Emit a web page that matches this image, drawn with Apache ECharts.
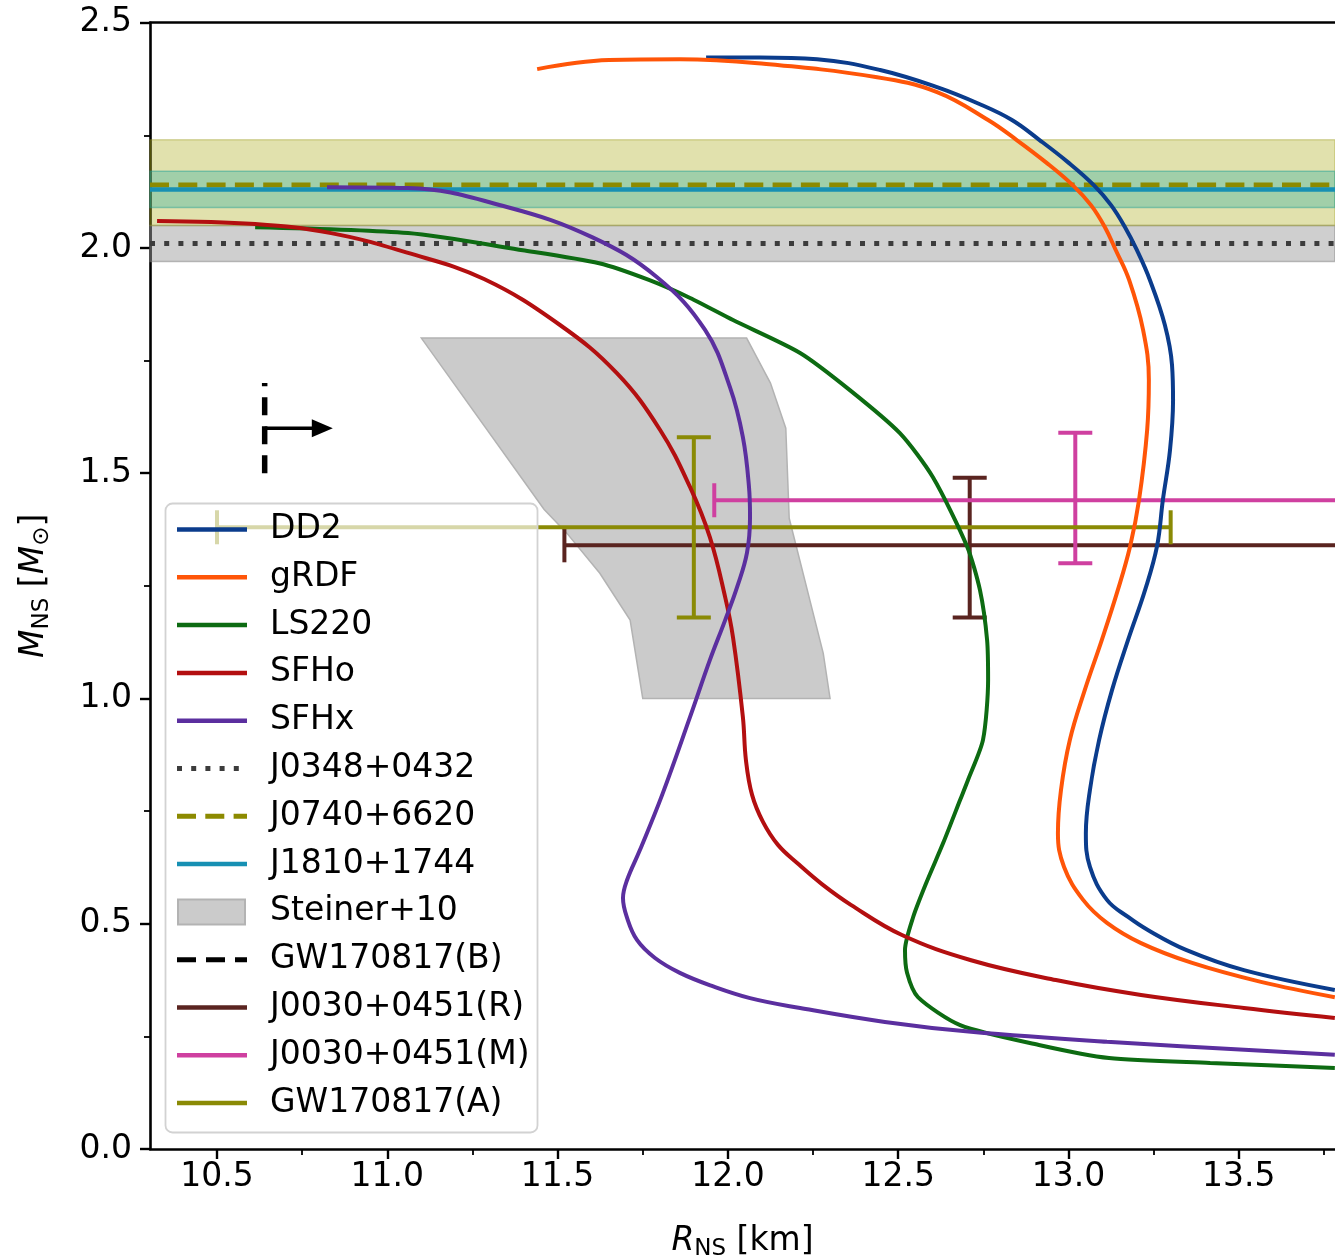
<!DOCTYPE html>
<html><head><meta charset="utf-8">
<script src="https://cdn.jsdelivr.net/npm/echarts@6/dist/echarts.min.js"></script>
<style>html,body{margin:0;padding:0;background:#fff}#c{width:1335px;height:1260px}</style>
</head><body><div id="c"></div>
<script>
// ---------------- data ----------------
const xMin = 10.3033, xMax = 13.7825;
const xTicks = [10.5, 11.0, 11.5, 12.0, 12.5, 13.0, 13.5];
const xMinorTicks = [10.75, 11.25, 11.75, 12.25, 12.75, 13.25, 13.75];

// EOS mass-radius curves (R [km], M [Msun])
const R_DD2 = [11.936, 12.094, 12.262, 12.447, 12.614, 12.740, 12.834, 12.916, 12.999, 13.075, 13.125, 13.166, 13.201, 13.239, 13.283, 13.304, 13.307, 13.298, 13.277, 13.260, 13.225, 13.175, 13.128, 13.090, 13.063, 13.051, 13.063, 13.113, 13.175, 13.233, 13.345, 13.515, 13.782];
const M_DD2 = [2.423, 2.423, 2.419, 2.395, 2.357, 2.319, 2.284, 2.239, 2.190, 2.139, 2.095, 2.046, 1.995, 1.929, 1.829, 1.740, 1.662, 1.551, 1.440, 1.338, 1.241, 1.130, 1.019, 0.908, 0.797, 0.701, 0.626, 0.553, 0.515, 0.486, 0.442, 0.397, 0.353];

const R_gRDF = [11.440, 11.651, 11.859, 12.088, 12.438, 12.614, 12.764, 12.849, 12.934, 13.013, 13.066, 13.107, 13.139, 13.178, 13.219, 13.236, 13.231, 13.207, 13.181, 13.145, 13.098, 13.048, 13.004, 12.978, 12.969, 12.987, 13.043, 13.113, 13.213, 13.363, 13.565, 13.782];
const M_gRDF = [2.397, 2.417, 2.419, 2.410, 2.379, 2.346, 2.284, 2.239, 2.190, 2.139, 2.095, 2.046, 1.995, 1.929, 1.818, 1.707, 1.596, 1.440, 1.338, 1.241, 1.130, 1.019, 0.908, 0.797, 0.701, 0.626, 0.553, 0.502, 0.457, 0.413, 0.371, 0.337];

const R_LS220 = [10.612, 11.061, 11.398, 11.622, 11.768, 11.889, 12.015, 12.212, 12.359, 12.505, 12.602, 12.702, 12.740, 12.761, 12.764, 12.749, 12.705, 12.682, 12.632, 12.582, 12.544, 12.520, 12.526, 12.558, 12.682, 12.913, 13.119, 13.416, 13.782];
const M_LS220 = [2.046, 2.033, 1.995, 1.966, 1.929, 1.889, 1.840, 1.767, 1.684, 1.589, 1.491, 1.338, 1.241, 1.130, 1.041, 0.908, 0.819, 0.775, 0.679, 0.590, 0.515, 0.442, 0.391, 0.337, 0.275, 0.231, 0.202, 0.191, 0.180];

const R_SFHo = [10.324, 10.612, 10.835, 11.061, 11.284, 11.507, 11.674, 11.801, 11.889, 11.947, 11.992, 12.015, 12.044, 12.053, 12.071, 12.103, 12.147, 12.206, 12.276, 12.361, 12.511, 12.714, 12.963, 13.213, 13.515, 13.782];
const M_SFHo = [2.060, 2.053, 2.033, 1.989, 1.931, 1.829, 1.722, 1.596, 1.469, 1.358, 1.225, 1.136, 0.959, 0.863, 0.786, 0.726, 0.675, 0.633, 0.588, 0.542, 0.475, 0.419, 0.375, 0.342, 0.313, 0.291];

const R_SFHx = [10.823, 11.061, 11.351, 11.601, 11.792, 11.933, 12.006, 12.044, 12.062, 12.065, 12.056, 12.027, 11.992, 11.947, 11.889, 11.807, 11.742, 11.704, 11.692, 11.704, 11.733, 11.786, 11.859, 11.953, 12.065, 12.212, 12.461, 12.714, 13.113, 13.782];
const M_SFHx = [2.135, 2.133, 2.091, 2.024, 1.935, 1.818, 1.691, 1.580, 1.469, 1.403, 1.323, 1.247, 1.174, 1.085, 0.959, 0.786, 0.664, 0.597, 0.557, 0.513, 0.464, 0.424, 0.391, 0.362, 0.335, 0.313, 0.282, 0.260, 0.238, 0.209];

// pulsar mass measurements (horizontal bands)
const psrNames = ['J0348+0432', 'J0740+6620', 'J1810+1744'];
const psrM = [2.01, 2.14, 2.13];
const psrLo = [1.97, 2.05, 2.09];
const psrHi = [2.05, 2.24, 2.17];

// Steiner+10 region
const steinerR = [11.10, 12.055, 12.125, 12.17, 12.18, 12.28, 12.30, 11.75, 11.713, 11.624, 11.527, 11.46];
const steinerM = [1.80, 1.80, 1.70, 1.60, 1.40, 1.10, 1.00, 1.00, 1.174, 1.278, 1.367, 1.42];

// GW170817(B) lower bound
const gwbR = [10.64];
const gwbMlo = [1.5];
const gwbMhi = [1.7];
const gwbMarrow = [1.6];
const gwbRarrow = [10.84];

// error bars
const ebNames = ['J0030+0451(R)', 'J0030+0451(M)', 'GW170817(A)'];
const ebR = [12.71, 13.02, 11.9];
const ebRlo = [11.52, 11.96, 10.5];
const ebRhi = [13.85, 14.26, 13.3];
const ebM = [1.34, 1.44, 1.38];
const ebMlo = [1.18, 1.30, 1.18];
const ebMhi = [1.49, 1.59, 1.58];

// ---------------- styles ----------------
const FONT = 'DejaVu Sans';
const curveNames = ['DD2', 'gRDF', 'LS220', 'SFHo', 'SFHx'];
const curveR = [R_DD2, R_gRDF, R_LS220, R_SFHo, R_SFHx];
const curveM = [M_DD2, M_gRDF, M_LS220, M_SFHo, M_SFHx];
const curveColors = ['#0b3c8c', '#ff5508', '#0d6b12', '#b30f10', '#5b2f9f'];
const curveSmooth = [0.4, 0.4, 0.25, 0.4, 0.4];
const psrBandFill = ['rgba(128,128,128,0.38)', 'rgba(170,168,20,0.35)', 'rgba(30,170,160,0.33)'];
const psrBandEdge = ['rgba(128,128,128,0.5)', 'rgba(150,148,20,0.35)', 'rgba(30,160,150,0.45)'];
const psrLineColor = ['#3c3c3c', '#8c8a00', '#1790b3'];
const psrLineDash = [[5, 9.2], [19, 9.3], null];
const psrLineWidth = [5, 5, 4.5];
const ebColors = ['#5a2420', '#cf40a0', '#8a8a05'];

const chart = echarts.init(document.getElementById('c'), null, {renderer: 'canvas'});

const series = [];

// bands
series.push({
  type: 'custom', name: 'bands', z: 1, silent: true,
  data: psrM.map((m, i) => [psrLo[i], psrHi[i], m]),
  encode: {y: [0, 1]},
  renderItem: (params, api) => {
    const cs = params.coordSys;
    const i = params.dataIndex;
    const yHi = api.coord([xMin, api.value(1)])[1];
    const yLo = api.coord([xMin, api.value(0)])[1];
    return {type: 'rect', shape: {x: cs.x, y: yHi, width: cs.width, height: yLo - yHi},
      style: {fill: psrBandFill[i], stroke: psrBandEdge[i], lineWidth: 1.5}};
  }
});
// band center lines
series.push({
  type: 'custom', name: 'psrlines', z: 2, silent: true,
  data: psrM.map((m) => [m]),
  encode: {y: 0},
  renderItem: (params, api) => {
    const cs = params.coordSys;
    const i = params.dataIndex;
    const y = api.coord([xMin, api.value(0)])[1];
    return {type: 'line', shape: {x1: cs.x, y1: y, x2: cs.x + cs.width, y2: y},
      style: {stroke: psrLineColor[i], lineWidth: psrLineWidth[i], lineDash: psrLineDash[i], lineCap: 'butt'}};
  }
});
// Steiner polygon
series.push({
  type: 'custom', name: 'Steiner+10', z: 2, silent: true,
  data: steinerR.map((r, i) => [r, steinerM[i]]),
  encode: {x: 0, y: 1},
  renderItem: (params, api) => {
    if (params.dataIndex !== 0) return null;
    const pts = steinerR.map((r, i) => api.coord([r, steinerM[i]]));
    return {type: 'polygon', shape: {points: pts},
      style: {fill: '#cbcbcb', stroke: '#b3b3b3', lineWidth: 1.5}};
  }
});
// GW170817(B)
series.push({
  type: 'custom', name: 'GW170817(B)', z: 3, silent: true,
  data: gwbR.map((r, i) => [r, gwbMlo[i], gwbMhi[i], gwbMarrow[i], gwbRarrow[i]]),
  encode: {x: 0, y: [1, 2]},
  renderItem: (params, api) => {
    const r = api.value(0);
    const pLo = api.coord([r, api.value(1)]);
    const pHi = api.coord([r, api.value(2)]);
    const pA = api.coord([r, api.value(3)]);
    const pE = api.coord([api.value(4), api.value(3)]);
    const head = 21, hw = 9;
    return {type: 'group', children: [
      {type: 'line', shape: {x1: pLo[0], y1: pLo[1], x2: pHi[0], y2: pHi[1]},
        style: {stroke: '#000', lineWidth: 5.5, lineDash: [18, 11], lineCap: 'butt'}},
      {type: 'line', shape: {x1: pA[0], y1: pA[1], x2: pE[0] - head + 2, y2: pE[1]},
        style: {stroke: '#000', lineWidth: 3.5}},
      {type: 'polygon', shape: {points: [[pE[0], pE[1]], [pE[0] - head, pE[1] - hw], [pE[0] - head, pE[1] + hw]]},
        style: {fill: '#000'}}
    ]};
  }
});
// error bars
series.push({
  type: 'custom', name: 'errorbars', z: 4, silent: true,
  data: ebR.map((r, i) => [r, ebM[i], ebRlo[i], ebRhi[i], ebMlo[i], ebMhi[i]]),
  encode: {x: [0, 2, 3], y: [1, 4, 5]},
  renderItem: (params, api) => {
    const i = params.dataIndex;
    const r = api.value(0), m = api.value(1);
    const pl = api.coord([api.value(2), m]);
    const ph = api.coord([api.value(3), m]);
    const vl = api.coord([r, api.value(4)]);
    const vh = api.coord([r, api.value(5)]);
    const cap = 17;
    const st = {stroke: ebColors[i], lineWidth: 4};
    const L = (x1, y1, x2, y2) => ({type: 'line', shape: {x1, y1, x2, y2}, style: st});
    return {type: 'group', children: [
      L(pl[0], pl[1], ph[0], ph[1]),
      L(vl[0], vl[1], vh[0], vh[1]),
      L(pl[0], pl[1] - cap, pl[0], pl[1] + cap),
      L(ph[0], ph[1] - cap, ph[0], ph[1] + cap),
      L(vl[0] - cap, vl[1], vl[0] + cap, vl[1]),
      L(vh[0] - cap, vh[1], vh[0] + cap, vh[1])
    ]};
  }
});
// EOS curves
curveNames.forEach((n, k) => {
  series.push({
    type: 'line', name: n, z: 5,
    data: curveR[k].map((r, i) => [r, curveM[k][i]]),
    showSymbol: false, symbol: 'none', smooth: curveSmooth[k], smoothConstraint: false, clip: true,
    lineStyle: {color: curveColors[k], width: 4},
    animation: false
  });
});

// ---------------- legend (drawn) ----------------
const legendNames = ['DD2', 'gRDF', 'LS220', 'SFHo', 'SFHx', 'J0348+0432', 'J0740+6620', 'J1810+1744', 'Steiner+10', 'GW170817(B)', 'J0030+0451(R)', 'J0030+0451(M)', 'GW170817(A)'];
const legendHandles = [
  {c: curveColors[0]}, {c: curveColors[1]}, {c: curveColors[2]}, {c: curveColors[3]}, {c: curveColors[4]},
  {c: psrLineColor[0], dash: [5, 9.2], w: 5},
  {c: psrLineColor[1], dash: [19, 9.3], w: 5},
  {c: psrLineColor[2], w: 4.5},
  {rect: true},
  {c: '#000', dash: [19, 10], w: 5},
  {c: ebColors[0]}, {c: ebColors[1]}, {c: ebColors[2]}
];
const gEls = [{type: 'rect', z: 100, shape: {x: 165.5, y: 503.5, width: 372, height: 629, r: 7},
  style: {fill: 'rgba(255,255,255,0.66)', stroke: '#d2d2d2', lineWidth: 1.8}}];
legendNames.forEach((n, i) => {
  const y = 529.5 + i * 47.8;
  const h = legendHandles[i];
  if (h.rect) {
    gEls.push({type: 'rect', z: 101, shape: {x: 178, y: y - 12.5, width: 67, height: 25},
      style: {fill: '#cbcbcb', stroke: '#b3b3b3', lineWidth: 2}});
  } else {
    gEls.push({type: 'line', z: 101, shape: {x1: 177, y1: y, x2: 247, y2: y},
      style: {stroke: h.c, lineWidth: h.w || 4.5, lineDash: h.dash || null, lineCap: 'butt'}});
  }
  gEls.push({type: 'text', z: 101, x: 270, y: y,
    style: {text: n, fontSize: 33, fontFamily: FONT, fill: '#000', verticalAlign: 'middle', textVerticalAlign: 'middle'}});
});

const axisText = {fontFamily: FONT, fontSize: 33, color: '#000'};
const richName = {
  i: {fontFamily: FONT, fontSize: 33, fontStyle: 'italic', color: '#000', lineHeight: 40, verticalAlign: 'middle'},
  s: {fontFamily: FONT, fontSize: 23, color: '#000', lineHeight: 23, verticalAlign: 'bottom'},
  n: {fontFamily: FONT, fontSize: 33, color: '#000', lineHeight: 40, verticalAlign: 'middle'}
};

const option = {
  animation: false,
  backgroundColor: '#fff',
  grid: {left: 150, right: 0, top: 22.7, bottom: 111, containLabel: false, outerBoundsMode: 'none'},
  xAxis: [
    {type: 'value', position: 'bottom', min: xMin, max: xMax,
      axisLine: {show: true, onZero: false, lineStyle: {color: '#000', width: 2.6}},
      axisTick: {show: true, customValues: xTicks, length: 10, lineStyle: {color: '#000', width: 2.4}},
      axisLabel: {show: true, customValues: xTicks, formatter: v => v.toFixed(1), margin: 12, ...axisText},
      splitLine: {show: false},
      name: '{i|R}{s|NS}{n| [km]}', nameLocation: 'middle', nameGap: 72,
      nameTextStyle: {...axisText, rich: richName}
    },
    {type: 'value', position: 'bottom', min: xMin, max: xMax,
      axisLine: {show: false},
      axisTick: {show: true, customValues: xMinorTicks, length: 6, lineStyle: {color: '#000', width: 1.8}},
      axisLabel: {show: false}, splitLine: {show: false}
    },
    {type: 'value', position: 'top', min: xMin, max: xMax,
      axisLine: {show: true, onZero: false, lineStyle: {color: '#000', width: 2.6}},
      axisTick: {show: false}, axisLabel: {show: false}, splitLine: {show: false}
    }
  ],
  yAxis: {
    type: 'value', min: 0, max: 2.5, interval: 0.5,
    axisLine: {show: true, onZero: false, lineStyle: {color: '#000', width: 2.6}},
    axisTick: {show: true, length: 10, lineStyle: {color: '#000', width: 2.4}},
    minorTick: {show: true, splitNumber: 2, length: 6, lineStyle: {color: '#000', width: 1.8}},
    axisLabel: {formatter: v => v.toFixed(1), margin: 18, ...axisText},
    splitLine: {show: false}, minorSplitLine: {show: false},
    name: '{i|M}{s|NS}{n| [}{i|M}{s|⊙}{n|]}', nameLocation: 'middle', nameGap: 96, nameRotate: 90,
    nameTextStyle: {...axisText, rich: richName}
  },
  series: series,
  graphic: {elements: gEls}
};
chart.setOption(option);
</script></body></html>
